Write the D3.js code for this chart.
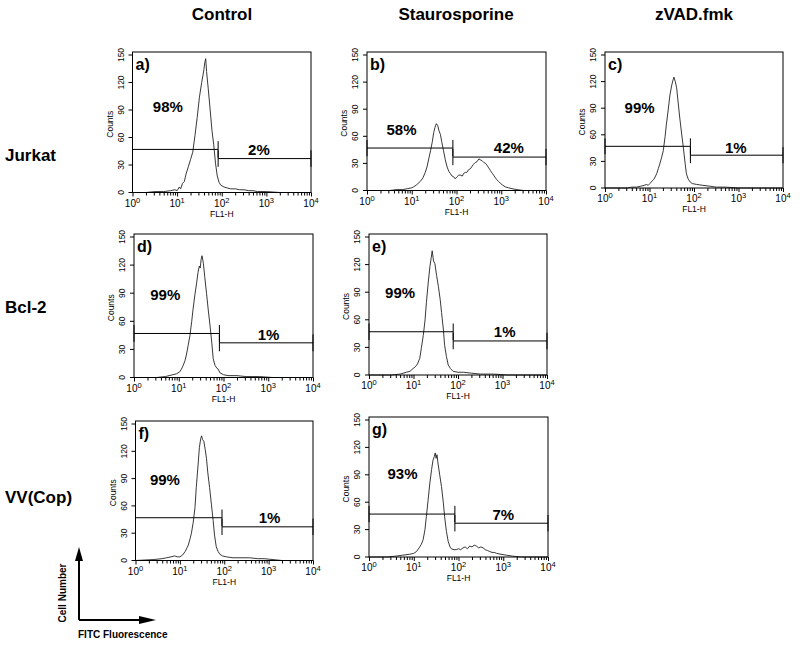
<!DOCTYPE html>
<html><head><meta charset="utf-8">
<script src="https://cdn.jsdelivr.net/npm/d3@7"></script>
<style>body{margin:0;background:#fff}svg{display:block}</style>
</head><body><svg id="c" width="800" height="648"></svg>
<script>
// ---- data: [FL1-H value, counts] ----
const jurkatControl = [[1,0],[2,0],[3.2,1],[5,1],[7.1,2],[8.9,3],[10,2],[11.2,6],[12,4],[13.2,10],[14.5,12],[15.8,20],[17.8,28],[20,36],[22.4,44],[25.1,62],[28.2,82],[31.6,104],[35.5,120],[38,128],[39.8,134],[41.7,142],[43.7,146],[45.7,132],[50.1,112],[55,90],[60.3,68],[66.1,52],[72.4,32],[79.4,18],[87.1,11],[95.5,8],[112,6],[132,5],[158,4],[200,4],[251,3],[316,3],[398,2],[501,2],[631,1],[1000,1],[1995,0],[10000,0]];
const jurkatStauro = [[1,0],[3.16,0],[4.68,1],[6.31,1],[7.94,2],[10,3],[10.96,4],[12.6,6],[15.5,10],[17.8,14],[20,20],[21.9,26],[24,35],[26.3,44],[28.8,54],[30.9,64],[33.1,70],[35.5,74],[38,72],[40.7,66],[43.7,62],[46.8,54],[51.3,44],[56.2,34],[61.7,26],[67.6,21],[72.4,19],[79.4,16],[87.1,15],[93.3,13],[102,15],[112,17],[123,17],[135,16],[145,19],[158,20],[170,20],[186,23],[204,24],[224,27],[240,29],[263,31],[288,32],[316,35],[339,34],[372,33],[407,31],[447,30],[479,28],[525,25],[575,22],[631,19],[676,17],[741,14],[794,12],[871,10],[955,8],[1072,6],[1230,4],[1445,3],[1738,2],[2239,1],[3162,0],[10000,0]];
const jurkatZvad = [[1,0],[3.16,0],[3.98,1],[5.13,1],[6.31,2],[7.59,3],[8.51,4],[9.33,3],[10.2,5],[11.5,8],[12.6,10],[14.5,16],[15.8,22],[17,27],[18.6,34],[20.4,42],[22.4,58],[24,72],[26.3,88],[28.8,105],[31.6,116],[33.9,122],[35.5,125],[38,120],[40.7,113],[43.7,98],[47.9,79],[52.5,62],[57.5,46],[63.1,28],[67.6,16],[74.1,10],[81.3,7],[91.2,5],[115,4],[158,3],[229,2],[316,1],[501,1],[1000,0],[10000,0]];
const bcl2Control = [[1,0],[3.16,0],[5.01,1],[7.41,3],[8.91,4],[10.5,6],[11.5,9],[12.6,13],[13.8,18],[14.8,24],[16.2,34],[17.8,45],[19.5,60],[20.9,73],[22.9,88],[25.1,101],[26.9,112],[28.8,119],[30.2,117],[31.6,126],[33.1,130],[35.5,122],[38,108],[41.7,90],[45.7,72],[50.1,55],[55,36],[58.9,20],[64.6,13],[70.8,10],[75.9,9],[83.2,5],[100,3],[126,2],[200,2],[316,1],[631,1],[1259,0],[10000,0]];
const bcl2Stauro = [[1,0],[3.16,0],[5.01,1],[6.92,3],[8.32,4],[9.77,7],[11,9],[12.3,12],[13.8,18],[15.1,30],[16.6,43],[18.2,60],[19.5,79],[21.4,100],[23.4,118],[25.1,128],[26.3,135],[28.2,124],[30.2,121],[33.1,108],[36.3,96],[39.8,82],[42.7,68],[46.8,50],[50.1,32],[55,20],[60.3,11],[67.6,7],[77.6,4],[100,3],[132,3],[200,2],[316,1],[631,1],[1259,0],[10000,0]];
const vvControl = [[1,0],[2.51,1],[3.98,2],[5.01,3],[6.31,4],[7.59,5],[8.91,4],[10,4],[11.5,6],[13.2,10],[14.5,14],[15.5,17],[17,24],[18.2,30],[20,42],[21.9,58],[23.4,80],[25.7,105],[27.5,124],[29.5,134],[30.9,137],[32.4,133],[34.7,131],[37.2,122],[39.8,112],[42.7,96],[46.8,80],[51.3,62],[56.2,44],[60.3,28],[66.1,15],[72.4,10],[79.4,7],[91.2,5],[112,4],[158,3],[251,3],[372,3],[562,2],[794,2],[1259,1],[1995,0],[10000,0]];
const vvStauro = [[1,0],[2.51,0],[4.07,1],[5.62,2],[8.13,3],[10,4],[11.5,6],[13.2,10],[14.8,14],[16.2,19],[17.8,30],[19.1,44],[20.9,62],[22.9,81],[25.1,96],[26.9,106],[28.8,110],[30.2,114],[31.6,108],[33.1,112],[34.7,103],[38,90],[41.7,77],[45.7,60],[49,44],[53.7,28],[58.9,17],[64.6,11],[69.2,9],[79.4,8],[89.1,8],[100,9],[112,8],[126,10],[141,11],[158,9],[178,12],[200,11],[224,13],[251,12],[282,10],[316,11],[355,10],[398,8],[447,7],[501,6],[562,5],[631,5],[708,4],[891,3],[1175,2],[1585,1],[2512,0],[10000,0]];

const columnTitles = ["Control", "Staurosporine", "zVAD.fmk"];
const rowTitles = ["Jurkat", "Bcl-2", "VV(Cop)"];
const panelLetters = ["a)", "b)", "c)", "d)", "e)", "f)", "g)"];
const leftPercents = ["98%", "58%", "99%", "99%", "99%", "99%", "93%"];
const rightPercents = ["2%", "42%", "1%", "1%", "1%", "1%", "7%"];
const gateBoundary = [83, 83, 83, 81, 78, 89, 83];
const yTicks = [0, 30, 60, 90, 120, 150];
const xTicks = [1, 10, 100, 1000, 10000];
const series = [jurkatControl, jurkatStauro, jurkatZvad, bcl2Control, bcl2Stauro, vvControl, vvStauro];

// ---- layout ----
const boxes = [
  {l:132.5, r:311, t:52, b:192.5},
  {l:367, r:546, t:52, b:190.5},
  {l:605, r:783, t:52, b:188},
  {l:134, r:313, t:234, b:377.5},
  {l:369, r:547, t:234, b:375},
  {l:135.5, r:313, t:421, b:560.5},
  {l:369, r:548, t:417, b:557}
];
const labelPos = [
  {lx:6.2, ly:88, rx:680, ry:41},
  {lx:5.9, ly:61, rx:1480, ry:41},
  {lx:6.0, ly:85, rx:870, ry:40},
  {lx:5.0, ly:83, rx:1020, ry:40},
  {lx:5.0, ly:84, rx:1120, ry:41},
  {lx:4.6, ly:83, rx:1050, ry:41},
  {lx:5.6, ly:85, rx:1000, ry:40}
];

const svg = d3.select("#c");
const FONT = "'Liberation Sans', Arial, Helvetica, sans-serif";

// headers
const colX = [222, 456, 694];
svg.selectAll("text.col").data(columnTitles).join("text")
  .attr("x", (d,i)=>colX[i]).attr("y", 20).attr("text-anchor","middle")
  .attr("font-family", FONT).attr("font-weight","bold").attr("font-size",17).text(d=>d);
const rowY = [161, 313, 503];
svg.selectAll("text.row").data(rowTitles).join("text")
  .attr("x", 5).attr("y", (d,i)=>rowY[i])
  .attr("font-family", FONT).attr("font-weight","bold").attr("font-size",17).text(d=>d);

series.forEach((data, i) => {
  const B = boxes[i];
  const g = svg.append("g");
  const x = d3.scaleLog().domain([1, 10000]).range([B.l, B.r]);
  const y = d3.scaleLinear().domain([0, 150]).range([B.b, B.t + 3]);

  // histogram
  g.append("path").datum(data)
    .attr("d", d3.line().x(d=>x(d[0])).y(d=>y(d[1])))
    .attr("fill","none").attr("stroke","#222").attr("stroke-width",0.9);

  // frame
  g.append("rect").attr("x",B.l).attr("y",B.t).attr("width",B.r-B.l).attr("height",B.b-B.t)
    .attr("fill","none").attr("stroke","#000").attr("stroke-width",1);

  // y axis
  const ya = g.append("g").attr("transform",`translate(${B.l},0)`)
    .call(d3.axisLeft(y).tickValues(yTicks).tickSize(4).tickPadding(2));
  ya.select(".domain").remove();
  ya.selectAll("text").attr("font-family",FONT).attr("font-size",8.5)
    .attr("text-anchor","middle").attr("dy",0)
    .attr("transform", d => `translate(-9,${y(d)}) rotate(-90)`).attr("x",0).attr("y",0);
  ya.selectAll(".tick").attr("transform", d=>`translate(0,0)`);
  ya.selectAll(".tick line").attr("y1", d=>y(d)).attr("y2", d=>y(d));
  g.append("text").attr("transform",`translate(${B.l-20},${(B.t+B.b)/2+2}) rotate(-90)`)
    .attr("text-anchor","middle").attr("font-family",FONT).attr("font-size",8.5).text("Counts");

  // x axis minor ticks
  const minors = [];
  for (let dec = 1; dec < 10000; dec *= 10) for (let m = 2; m < 10; m++) minors.push(dec*m);
  const xa = g.append("g").attr("transform",`translate(0,${B.b})`)
    .call(d3.axisBottom(x).tickValues(minors).tickSize(3).tickFormat(""));
  xa.select(".domain").remove();
  const xm = g.append("g").attr("transform",`translate(0,${B.b})`)
    .call(d3.axisBottom(x).tickValues(xTicks).tickSize(4).tickFormat(""));
  xm.select(".domain").remove();
  xTicks.forEach(v => {
    const t = g.append("text").attr("x", x(v)).attr("y", B.b + 14)
      .attr("text-anchor","middle").attr("font-family",FONT).attr("font-size",10);
    t.append("tspan").text("10");
    t.append("tspan").attr("dy",-4).attr("font-size",7.5).text(Math.round(Math.log10(v)));
  });
  g.append("text").attr("x",(B.l+B.r)/2).attr("y",B.b+24).attr("text-anchor","middle")
    .attr("font-family",FONT).attr("font-size",8.5).text("FL1-H");

  // gates
  const gb = gateBoundary[i];
  const gates = [[1, gb, 47], [gb, 10000, 37]];
  gates.forEach(([a, b, h]) => {
    g.append("line").attr("x1",x(a)).attr("x2",x(b)).attr("y1",y(h)).attr("y2",y(h))
      .attr("stroke","#000").attr("stroke-width",1);
    [a, b].forEach(e => g.append("line").attr("x1",x(e)).attr("x2",x(e))
      .attr("y1",y(h-9)).attr("y2",y(h+9)).attr("stroke","#000").attr("stroke-width",1));
  });

  // labels
  const P = labelPos[i];
  g.append("text").attr("x",x(P.lx)).attr("y",y(P.ly)).attr("text-anchor","middle")
    .attr("font-family",FONT).attr("font-weight","bold").attr("font-size",15).text(leftPercents[i]);
  g.append("text").attr("x",x(P.rx)).attr("y",y(P.ry)).attr("text-anchor","middle")
    .attr("font-family",FONT).attr("font-weight","bold").attr("font-size",15).text(rightPercents[i]);
  g.append("text").attr("x",B.l+3).attr("y",B.t+18)
    .attr("font-family",FONT).attr("font-weight","bold").attr("font-size",16).text(panelLetters[i]);
});

// axis key bottom-left
const ox = 79, oy = 620;
svg.append("line").attr("x1",ox).attr("y1",oy).attr("x2",ox).attr("y2",560).attr("stroke","#000").attr("stroke-width",2);
svg.append("path").attr("d",`M${ox-4},${561} L${ox},${547} L${ox+4},${561} Z`).attr("fill","#000");
svg.append("line").attr("x1",ox).attr("y1",oy).attr("x2",140).attr("y2",oy).attr("stroke","#000").attr("stroke-width",2);
svg.append("path").attr("d",`M139,${oy-4} L156,${oy} L139,${oy+4} Z`).attr("fill","#000");
svg.append("text").attr("transform",`translate(66,593) rotate(-90)`).attr("text-anchor","middle")
  .attr("font-family",FONT).attr("font-weight","bold").attr("font-size",10).text("Cell Number");
svg.append("text").attr("x",78).attr("y",638)
  .attr("font-family",FONT).attr("font-weight","bold").attr("font-size",10).text("FITC Fluorescence");
</script></body></html>
